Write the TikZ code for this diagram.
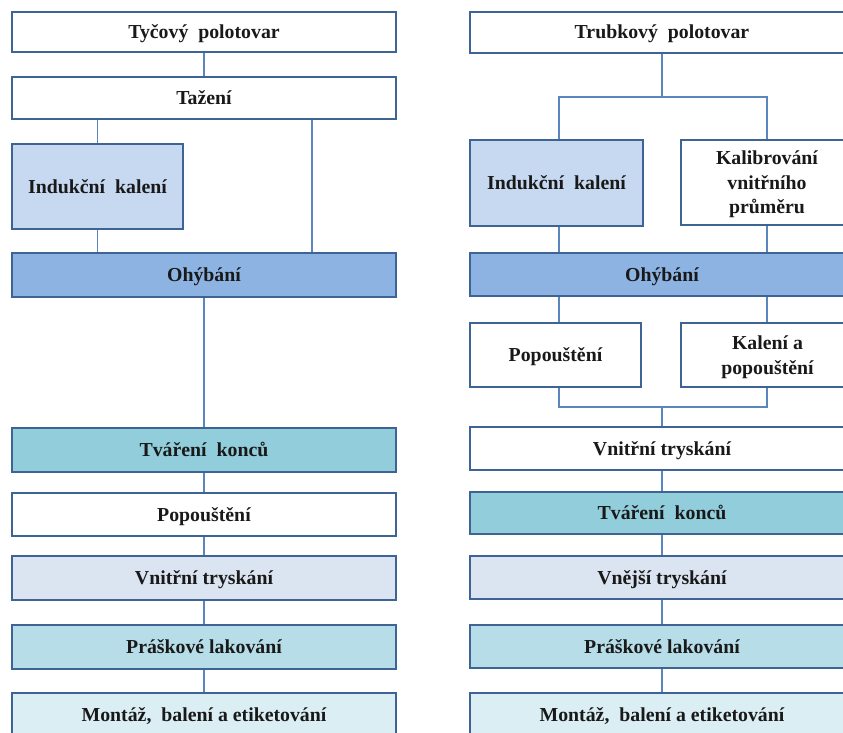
\documentclass[tikz,border=0pt]{standalone}
\usepackage{fontspec}
\setmainfont{Liberation Serif}
\definecolor{bord}{HTML}{3E6496}
\definecolor{conn}{HTML}{5A86C0}
\definecolor{cOhyb}{HTML}{8DB3E2}
\definecolor{cInd}{HTML}{C6D9F1}
\definecolor{cTvar}{HTML}{92CDDC}
\definecolor{cTrys}{HTML}{DBE5F1}
\definecolor{cLak}{HTML}{B7DDE8}
\definecolor{cMont}{HTML}{DAEEF3}
\begin{document}
\begin{tikzpicture}[x=1pt,y=-1pt,
  box/.style={draw=bord, line width=2pt, fill=white, inner sep=2pt,
    font=\fontsize{19.8}{24.5}\selectfont\bfseries, text=black!90, align=center},
  oneline/.style={text height=14.8pt, text depth=1.8pt},
  multiline/.style={text depth=0pt},
  wide/.style={box, oneline, minimum width=384pt},
  half/.style={box, minimum width=173pt},
  link/.style={draw=conn, line width=1.1pt}]
\useasboundingbox (0,0) rectangle (843,733);
\clip (0,0) rectangle (843,733);
% ---------- left column ----------
\node[wide, minimum height=40pt] (l1) at (204,32) {Tyčový\ \ polotovar};
\node[wide, minimum height=42pt] (l2) at (204,98) {Tažení};
\node[half, oneline, fill=cInd, minimum width=171pt, minimum height=85pt] (l3) at (97.5,186.5) {Indukční\ \ kalení};
\node[wide, fill=cOhyb, minimum height=44pt] (l4) at (204,275) {Ohýbání};
\node[wide, fill=cTvar, minimum height=44pt] (l5) at (204,450) {Tváření\ \ konců};
\node[wide, minimum height=43pt] (l6) at (204,514.5) {Popouštění};
\node[wide, fill=cTrys, minimum height=44pt] (l7) at (204,578) {Vnitřní tryskání};
\node[wide, fill=cLak, minimum height=44pt] (l8) at (204,647) {Práškové lakování};
\node[wide, fill=cMont, minimum height=44pt] (l9) at (204,715) {Montáž,\ \ balení a etiketování};
\coordinate (lx) at (312,0);
\draw[link] (l1) -- (l2);
\draw[link] (l2.south -| l3.north) -- (l3.north);
\draw[link] (l3.south) -- (l4.north -| l3.south);
\draw[link] (l2.south -| lx) -- (l4.north -| lx);
\draw[link] (l4) -- (l5);
\draw[link] (l5) -- (l6);
\draw[link] (l6) -- (l7);
\draw[link] (l7) -- (l8);
\draw[link] (l8) -- (l9);
% ---------- right column ----------
\node[wide, minimum height=41pt] (r1) at (662,32.5) {Trubkový\ \ polotovar};
\node[half, oneline, fill=cInd, minimum height=86pt] (r2a) at (556.5,183) {Indukční\ \ kalení};
\node[half, multiline, minimum height=85pt] (r2b) at (767,182.5) {Kalibrování\\vnitřního\\průměru};
\node[wide, fill=cOhyb, minimum height=43pt] (r3) at (662,274.5) {Ohýbání};
\node[half, oneline, minimum width=171pt, minimum height=64pt] (r4a) at (555.5,355) {Popouštění};
\node[half, multiline, minimum height=64pt] (r4b) at (767.5,355) {Kalení a\\popouštění};
\node[wide, minimum height=43pt] (r5) at (662,448.5) {Vnitřní tryskání};
\node[wide, fill=cTvar, minimum height=42pt] (r6) at (662,513) {Tváření\ \ konců};
\node[wide, fill=cTrys, minimum height=43pt] (r7) at (662,577.5) {Vnější tryskání};
\node[wide, fill=cLak, minimum height=43pt] (r8) at (662,646.5) {Práškové lakování};
\node[wide, fill=cMont, minimum height=44pt] (r9) at (662,715) {Montáž,\ \ balení a etiketování};
\coordinate (rxa) at (559,0);
\coordinate (rxb) at (767,0);
\coordinate (split) at (662,97);
\coordinate (join) at (662,407);
\draw[link] (r1.south) -- (split);
\draw[link] (r2a.north -| rxa) -- (split -| rxa) -- (split -| rxb) -- (r2b.north -| rxb);
\draw[link] (r2a.south -| rxa) -- (r3.north -| rxa);
\draw[link] (r2b.south -| rxb) -- (r3.north -| rxb);
\draw[link] (r3.south -| rxa) -- (r4a.north -| rxa);
\draw[link] (r3.south -| rxb) -- (r4b.north -| rxb);
\draw[link] (r4a.south -| rxa) -- (join -| rxa) -- (join -| rxb) -- (r4b.south -| rxb);
\draw[link] (join) -- (r5.north);
\draw[link] (r5) -- (r6);
\draw[link] (r6) -- (r7);
\draw[link] (r7) -- (r8);
\draw[link] (r8) -- (r9);
\end{tikzpicture}
\end{document}
